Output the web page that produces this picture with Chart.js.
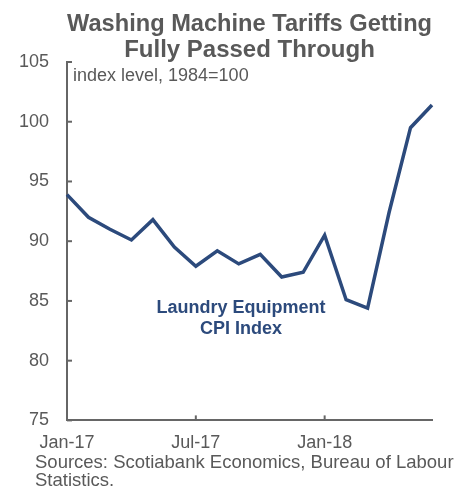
<!DOCTYPE html>
<html lang="en">
<head>
  <meta charset="UTF-8">
  <title>Washing Machine Tariffs</title>
  <style>
    * { margin: 0; padding: 0; box-sizing: border-box; }
    body { background: #fff; width: 471px; height: 491px; overflow: hidden; }
    canvas { display: block; }
  </style>
</head>
<body>
  <canvas id="chart" width="471" height="491"></canvas>

  <script src="https://cdn.jsdelivr.net/npm/chart.js"></script>
  <script>
    // monthly data, Jan-17 .. Jun-18
    const months = ['Jan-17', 'Feb-17', 'Mar-17', 'Apr-17', 'May-17', 'Jun-17',
                    'Jul-17', 'Aug-17', 'Sep-17', 'Oct-17', 'Nov-17', 'Dec-17',
                    'Jan-18', 'Feb-18', 'Mar-18', 'Apr-18', 'May-18', 'Jun-18'];
    const laundryCpi = [93.9, 92.0, 91.0, 90.1, 91.8, 89.5,
                        87.9, 89.2, 88.1, 88.9, 87.0, 87.4,
                        90.5, 85.1, 84.4, 92.4, 99.5, 101.4];
    const shownMonths = ['Jan-17', 'Jul-17', 'Jan-18'];
    const yTicks = [75, 80, 85, 90, 95, 100, 105];
    const sourceLines = ['Sources: Scotiabank Economics, Bureau of Labour', 'Statistics.'];

    const GRAY = '#595959';
    const AXIS = '#666666';
    const NAVY = '#2c4a7c';
    const FONT = "'Liberation Sans', Arial, sans-serif";

    // small inward tick marks + text notes
    const extras = {
      id: 'extras',
      afterDraw(chart) {
        const ctx = chart.ctx;
        const x = chart.scales.x, y = chart.scales.y;
        const area = chart.chartArea;
        ctx.save();
        ctx.strokeStyle = AXIS;
        ctx.lineWidth = 2;
        y.ticks.forEach((t, i) => {
          const py = y.getPixelForTick(i);
          ctx.beginPath();
          ctx.moveTo(area.left, py);
          ctx.lineTo(area.left + 5, py);
          ctx.stroke();
        });
        x.ticks.forEach((t, i) => {
          if (!t.label) return;
          const px = x.getPixelForTick(i);
          ctx.beginPath();
          ctx.moveTo(px, area.bottom);
          ctx.lineTo(px, area.bottom - 5);
          ctx.stroke();
        });

        ctx.fillStyle = GRAY;
        ctx.font = '18px ' + FONT;
        ctx.textAlign = 'left';
        ctx.textBaseline = 'middle';
        ctx.fillText('index level, 1984=100', area.left + 6, y.getPixelForValue(103.8));

        // source note under the axis
        ctx.font = '18.5px ' + FONT;
        sourceLines.forEach((s, i) => {
          ctx.fillText(s, 35, chart.height - 28 + i * 18);
        });

        ctx.fillStyle = NAVY;
        ctx.font = 'bold 18px ' + FONT;
        ctx.textAlign = 'center';
        const cx = x.getPixelForValue(8.1);
        ctx.fillText('Laundry Equipment', cx, y.getPixelForValue(84.4));
        ctx.fillText('CPI Index', cx, y.getPixelForValue(82.65));
        ctx.restore();
      }
    };

    new Chart(document.getElementById('chart'), {
      type: 'line',
      data: {
        labels: months,
        datasets: [{
          label: 'Laundry Equipment CPI Index',
          data: laundryCpi,
          borderColor: NAVY,
          borderWidth: 3.5,
          pointRadius: 0,
          tension: 0,
          fill: false
        }]
      },
      options: {
        responsive: false,
        animation: false,
        devicePixelRatio: 1,
        layout: { padding: { left: 0, right: 39, top: 0, bottom: 25 } },
        plugins: {
          legend: { display: false },
          tooltip: { enabled: false },
          title: {
            display: true,
            fullSize: false,
            text: ['Washing Machine Tariffs Getting', 'Fully Passed Through'],
            color: GRAY,
            font: { family: FONT, size: 24, weight: 'bold', lineHeight: 1.083 },
            padding: { top: 11, bottom: -1 }
          }
        },
        scales: {
          x: {
            grid: { drawOnChartArea: false, drawTicks: false },
            border: { display: true, color: AXIS, width: 2 },
            ticks: {
              autoSkip: false,
              maxRotation: 0,
              padding: 12,
              color: GRAY,
              font: { family: FONT, size: 18 },
              callback: function (v, i) {
                const m = months[i];
                return shownMonths.includes(m) ? m : null;
              }
            }
          },
          y: {
            min: 75,
            max: 105,
            afterFit: s => { s.width = 67; },
            afterBuildTicks: s => { s.ticks = yTicks.map(v => ({ value: v })); },
            grid: { drawOnChartArea: false, drawTicks: false },
            border: { display: true, color: AXIS, width: 2 },
            ticks: {
              padding: 18,
              color: GRAY,
              font: { family: FONT, size: 18 }
            }
          }
        }
      },
      plugins: [extras]
    });
  </script>
</body>
</html>
